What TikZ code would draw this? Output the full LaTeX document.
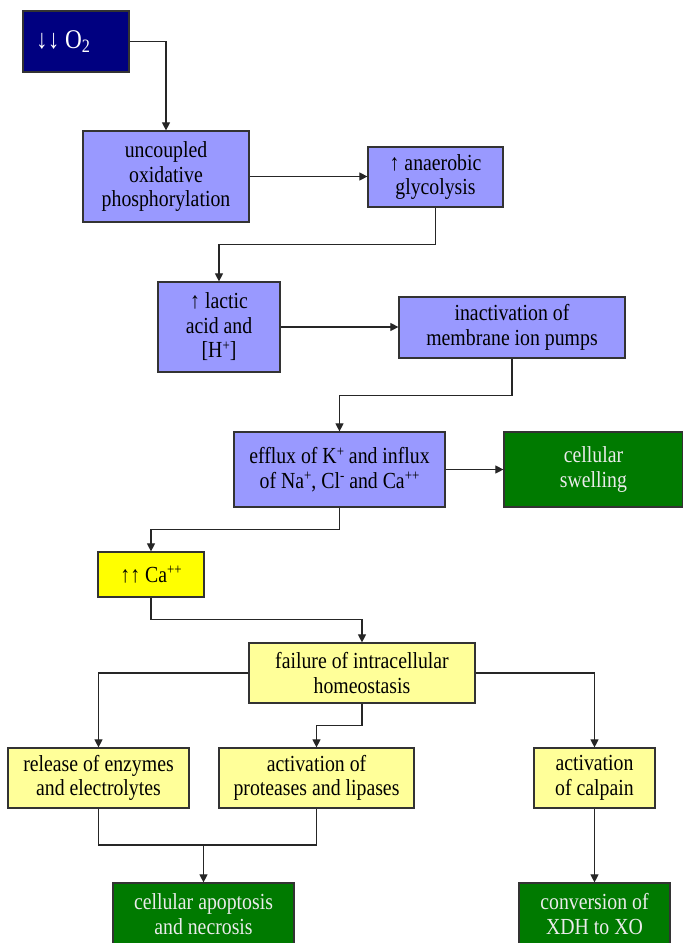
\documentclass[tikz,border=0pt]{standalone}
\usepackage{fontspec}
\setmainfont{Liberation Serif}[FakeStretch=0.86]
\usetikzlibrary{arrows.meta}
\definecolor{navy}{RGB}{0,0,128}
\definecolor{lav}{RGB}{153,153,255}
\definecolor{lyel}{RGB}{255,255,153}
\definecolor{yel}{RGB}{255,255,0}
\definecolor{dgreen}{RGB}{0,122,0}
\newcommand{\sps}[1]{\raisebox{0.32em}{\fontsize{15}{15}\selectfont #1}}
\begin{document}
\begin{tikzpicture}[x=1pt,y=-1pt,
  box/.style={draw=black!80, line width=1.2pt, align=center, inner sep=0pt,
    font=\fontsize{23}{24.5}\selectfont},
  purp/.style={box, fill=lav, text=black},
  lyb/.style={box, fill=lyel, text=black},
  grn/.style={box, fill=dgreen, text=white!92!black},
  conn/.style={draw=black!85, line width=1.1pt},
  arr/.style={conn, -{Triangle[length=8pt,width=8pt]}}]
\useasboundingbox (0,0) rectangle (683,943);
\fill[white] (0,0) rectangle (683,943);

\node[box, fill=navy, minimum width=106, minimum height=61] (o2) at (76,41.5) {};
\node[anchor=west, text=white, font=\fontsize{27}{30}\selectfont, inner sep=0pt] (o2t) at (36,42) {↓↓ O\textsubscript{2}};

\node[purp, minimum width=166, minimum height=91] (unc) at (166,176.5) {uncoupled\\oxidative\\phosphorylation};
\node[purp, minimum width=135, minimum height=60] (ana) at (435.5,177) {↑ anaerobic\\glycolysis};
\node[purp, minimum width=122, minimum height=90] (lac) at (219,327) {↑ lactic\\acid and\\{[H\sps{+}]}};
\node[purp, minimum width=226, minimum height=61] (ina) at (512,327.5) {inactivation of\\membrane ion pumps};
\node[purp, minimum width=211, minimum height=75] (eff) at (339.5,469.5) {efflux of K\sps{+} and influx\\of Na\sps{+}, Cl\sps{-} and Ca\sps{++}};
\node[grn, minimum width=179, minimum height=75] (swe) at (593.5,469.5) {cellular\\swelling};
\node[box, fill=yel, minimum width=106, minimum height=45] (ca) at (151,574.5) {↑↑ Ca\sps{++}};
\node[lyb, minimum width=226, minimum height=60] (fail) at (362,673) {failure of intracellular\\homeostasis};
\node[lyb, minimum width=181, minimum height=60] (rel) at (98.5,778) {release of enzymes\\and electrolytes};
\node[lyb, minimum width=195, minimum height=60] (pro) at (316.5,778) {activation of\\proteases and lipases};
\node[lyb, minimum width=121, minimum height=60] (cal) at (594.5,778) {activation\\of calpain};
\node[grn, minimum width=181, minimum height=62] (apo) at (203.5,914) {cellular apoptosis\\and necrosis};
\node[grn, minimum width=151, minimum height=62] (xdh) at (594.5,914) {conversion of\\XDH to XO};

\coordinate (m) at (203.5,845);

\draw[arr] (o2.east) -| (unc.north);
\draw[arr] (unc.east) -- (unc.east -| ana.west);
\draw[arr] (ana.south) -- ++(0,37) -| (lac.north);
\draw[arr] (lac.east) -- (lac.east -| ina.west);
\draw[arr] (ina.south) -- ++(0,37) -| (eff.north);
\draw[arr] (eff.east) -- (eff.east -| swe.west);
\draw[arr] (eff.south) -- ++(0,22) -| (ca.north);
\draw[arr] (ca.south) -- ++(0,22) -| (fail.north);
\draw[arr] (fail.west) -| (rel.north);
\draw[arr] (fail.east) -| (cal.north);
\draw[arr] (fail.south) -- ++(0,22) -| (pro.north);
\draw[conn] (rel.south) |- (m) -| (pro.south);
\draw[arr] (m) -- (apo.north);
\draw[arr] (cal.south) -- (xdh.north);
\end{tikzpicture}
\end{document}
